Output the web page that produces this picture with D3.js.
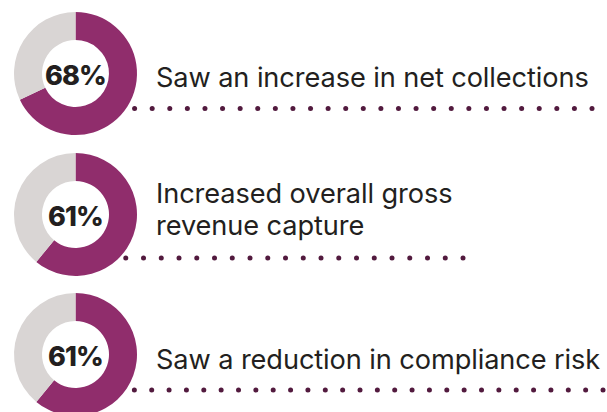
<!DOCTYPE html>
<html>
<head>
<meta charset="utf-8">
<script src="https://cdn.jsdelivr.net/npm/d3@7"></script>
<style>
  html, body { margin: 0; padding: 0; background: #fff; }
  svg { display: block; }
</style>
</head>
<body>
<div id="chart"></div>
<script>
// data
const percents = [68, 61, 61];
const labelLines = [
  ["Saw an increase in net collections"],
  ["Increased overall gross", "revenue capture"],
  ["Saw a reduction in compliance risk"],
];

// layout per row (center y of donut, dotted rule start / end / y)
const rows = [
  { cy: 73.5, textY: 87, dotY: 108.5, dotX0: 117, dotX1: 592 },
  { cy: 214.5, textY: 203, dotY: 258, dotX0: 108, dotX1: 463 },
  { cy: 354.5, textY: 369, dotY: 390, dotX0: 117, dotX1: 603 },
];

const width = 607;
const height = 412;
const cx = 75.5;
const outerR = 61.5;
const innerR = 33.5;

const purple = "#902d6c";
const grey = "#d9d5d4";
const dotColor = "#521a3e";
const ink = "#231f20";
const font = "Inter, 'Noto Sans', sans-serif";

const svg = d3
  .select("#chart")
  .append("svg")
  .attr("width", width)
  .attr("height", height)
  .attr("viewBox", [0, 0, width, height]);

const pie = d3.pie().sort(null).value((d) => d);
const arc = d3.arc().innerRadius(innerR).outerRadius(outerR);

const row = svg
  .selectAll("g.row")
  .data(percents.map((p, i) => ({ p, lines: labelLines[i], ...rows[i] })))
  .join("g")
  .attr("class", "row");

//dotted rule (drawn first so donut sits on top)
row.each(function (d) {
  const step = 17.55;
  const n = Math.round((d.dotX1 - d.dotX0) / step) + 1;
  const x = d3.scaleLinear().domain([0, n - 1]).range([d.dotX0, d.dotX1]);
  d3.select(this)
    .append("g")
    .attr("class", "dots")
    .selectAll("circle")
    .data(d3.range(n))
    .join("circle")
    .attr("cx", (i) => x(i))
    .attr("cy", d.dotY)
    .attr("r", (i) => (i === 0 ? 3.3 : 2.5))
    .attr("fill", dotColor);
});

//donut
const donut = row
  .append("g")
  .attr("class", "donut")
  .attr("transform", (d) => `translate(${cx},${d.cy})`);

donut
  .selectAll("path")
  .data((d) => pie([d.p, 100 - d.p]))
  .join("path")
  .attr("d", arc)
  .attr("fill", (d, i) => (i === 0 ? purple : grey));

donut
  .append("text")
  .attr("text-anchor", "middle")
  .attr("y", 11)
  .attr("font-family", font)
  .attr("font-weight", 800)
  .attr("font-size", 27)
  .attr("letter-spacing", -0.8)
  .attr("fill", ink)
  .text((d) => `${d.p}%`);

//label
row
  .append("text")
  .attr("class", "label")
  .attr("font-family", font)
  .attr("font-size", 27.2)
  .attr("letter-spacing", -0.1)
  .attr("fill", ink)
  .selectAll("tspan")
  .data((d) => d.lines.map((l) => ({ l, y: d.textY })))
  .join("tspan")
  .attr("x", 156)
  .attr("y", (t, i) => t.y + i * 32)
  .text((t) => t.l);
</script>
</body>
</html>
